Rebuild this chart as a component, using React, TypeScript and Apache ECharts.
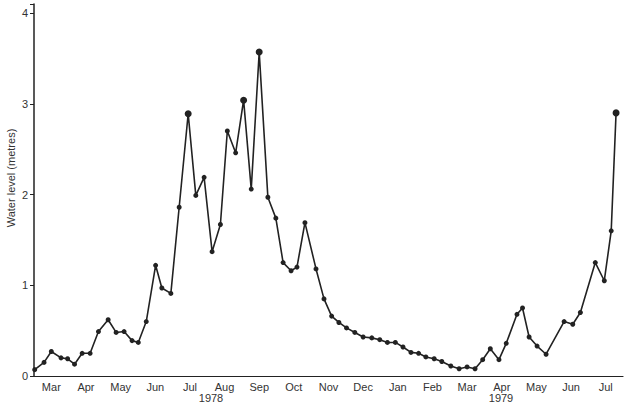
import React, { useEffect, useRef } from "react";
import * as echarts from "echarts";

// Month labels along the x axis (March 1978 .. July 1979)
const monthLabels = ["Mar", "Apr", "May", "Jun", "Jul", "Aug", "Sep", "Oct", "Nov", "Dec", "Jan", "Feb", "Mar", "Apr", "May", "Jun", "Jul"];

// Position of each reading, in months elapsed since 1 March 1978
const readingMonths = [
  0.02, 0.29, 0.5, 0.78, 0.97, 1.17, 1.39, 1.62, 1.86, 2.14, 2.37, 2.6, 2.83, 3.01,
  3.24, 3.51, 3.69, 3.95, 4.19, 4.45, 4.67, 4.91, 5.14, 5.38, 5.58, 5.82, 6.05, 6.27,
  6.5, 6.75, 6.98, 7.19, 7.42, 7.59, 7.82, 8.14, 8.37, 8.59, 8.8, 9.02, 9.26, 9.5,
  9.75, 9.98, 10.2, 10.43, 10.65, 10.88, 11.1, 11.31, 11.55, 11.77, 12.03, 12.27,
  12.5, 12.73, 12.95, 13.17, 13.42, 13.63, 13.94, 14.1, 14.29, 14.52, 14.78, 15.3,
  15.55, 15.77, 16.2, 16.46, 16.66, 16.8,
];

// Water level readings (metres)
const waterLevels = [
  0.07, 0.15, 0.27, 0.2, 0.19, 0.13, 0.25, 0.25, 0.49, 0.62, 0.48, 0.49, 0.39, 0.37,
  0.6, 1.22, 0.97, 0.91, 1.86, 2.89, 1.99, 2.19, 1.37, 1.67, 2.7, 2.46, 3.04, 2.06,
  3.57, 1.97, 1.74, 1.25, 1.16, 1.2, 1.69, 1.18, 0.85, 0.66, 0.59, 0.53, 0.48, 0.43,
  0.42, 0.4, 0.37, 0.37, 0.32, 0.26, 0.25, 0.21, 0.19, 0.16, 0.11, 0.08, 0.1, 0.08,
  0.18, 0.3, 0.18, 0.36, 0.68, 0.75, 0.43, 0.33, 0.24, 0.6, 0.57, 0.7, 1.25, 1.05,
  1.6, 2.9,
];

const yTicks = [0, 1, 2, 3, 4];
const yearLabels = ["1978", "1979"];

const FONT = "'Liberation Sans', Arial, sans-serif";
const INK = "#222";

export default function App() {
  const ref = useRef<HTMLDivElement>(null);

  useEffect(() => {
    if (!ref.current) return;
    const chart = echarts.init(ref.current, undefined, { renderer: "svg" });
    const data = readingMonths.map((m, i) => [m, waterLevels[i]]);
    chart.setOption({
      animation: false,
      backgroundColor: "#fff",
      grid: { left: 34, right: 2, top: 4, bottom: 29 },
      xAxis: [
        {
          type: "category",
          data: monthLabels,
          boundaryGap: true,
          axisLine: { lineStyle: { color: INK, width: 1.2 } },
          axisTick: { length: 4, lineStyle: { color: INK } },
          axisLabel: { color: "#333", fontSize: 11, fontFamily: FONT, margin: 5, interval: 0 },
          splitLine: { show: false },
        },
        {
          type: "value",
          min: 0,
          max: monthLabels.length,
          show: false,
        },
      ],
      yAxis: {
        type: "value",
        min: 0,
        max: 4.1,
        interval: 1,
        axisLine: { show: true, lineStyle: { color: INK, width: 1.5 } },
        axisTick: { show: true, length: 4, lineStyle: { color: INK } },
        axisLabel: {
          color: "#333",
          fontSize: 11,
          fontFamily: FONT,
          margin: 6,
          formatter: (v: number) => (yTicks.includes(v) ? String(v) : ""),
        },
        splitLine: { show: false },
      },
      graphic: [
        {
          type: "text",
          x: 11,
          y: 178,
          rotation: Math.PI / 2,
          style: {
            text: "Water level (metres)",
            fill: "#333",
            fontSize: 11,
            fontFamily: FONT,
            align: "center",
            verticalAlign: "middle",
          },
        },
        {
          type: "text",
          x: 211,
          y: 398,
          style: { text: yearLabels[0], fill: "#333", fontSize: 11, fontFamily: FONT, align: "center", verticalAlign: "middle" },
        },
        {
          type: "text",
          x: 501,
          y: 398,
          style: { text: yearLabels[1], fill: "#333", fontSize: 11, fontFamily: FONT, align: "center", verticalAlign: "middle" },
        },
      ],
      series: [
        {
          type: "line",
          xAxisIndex: 1,
          data,
          symbol: "circle",
          symbolSize: (val: number[]) => (val[1] > 2.85 ? 7 : 5),
          lineStyle: { color: INK, width: 1.6 },
          itemStyle: { color: INK },
        },
      ],
    });
    return () => chart.dispose();
  }, []);

  return (
    <div
      ref={ref}
      style={{ position: "absolute", left: 0, top: 0, width: 625, height: 405 }}
    />
  );
}
